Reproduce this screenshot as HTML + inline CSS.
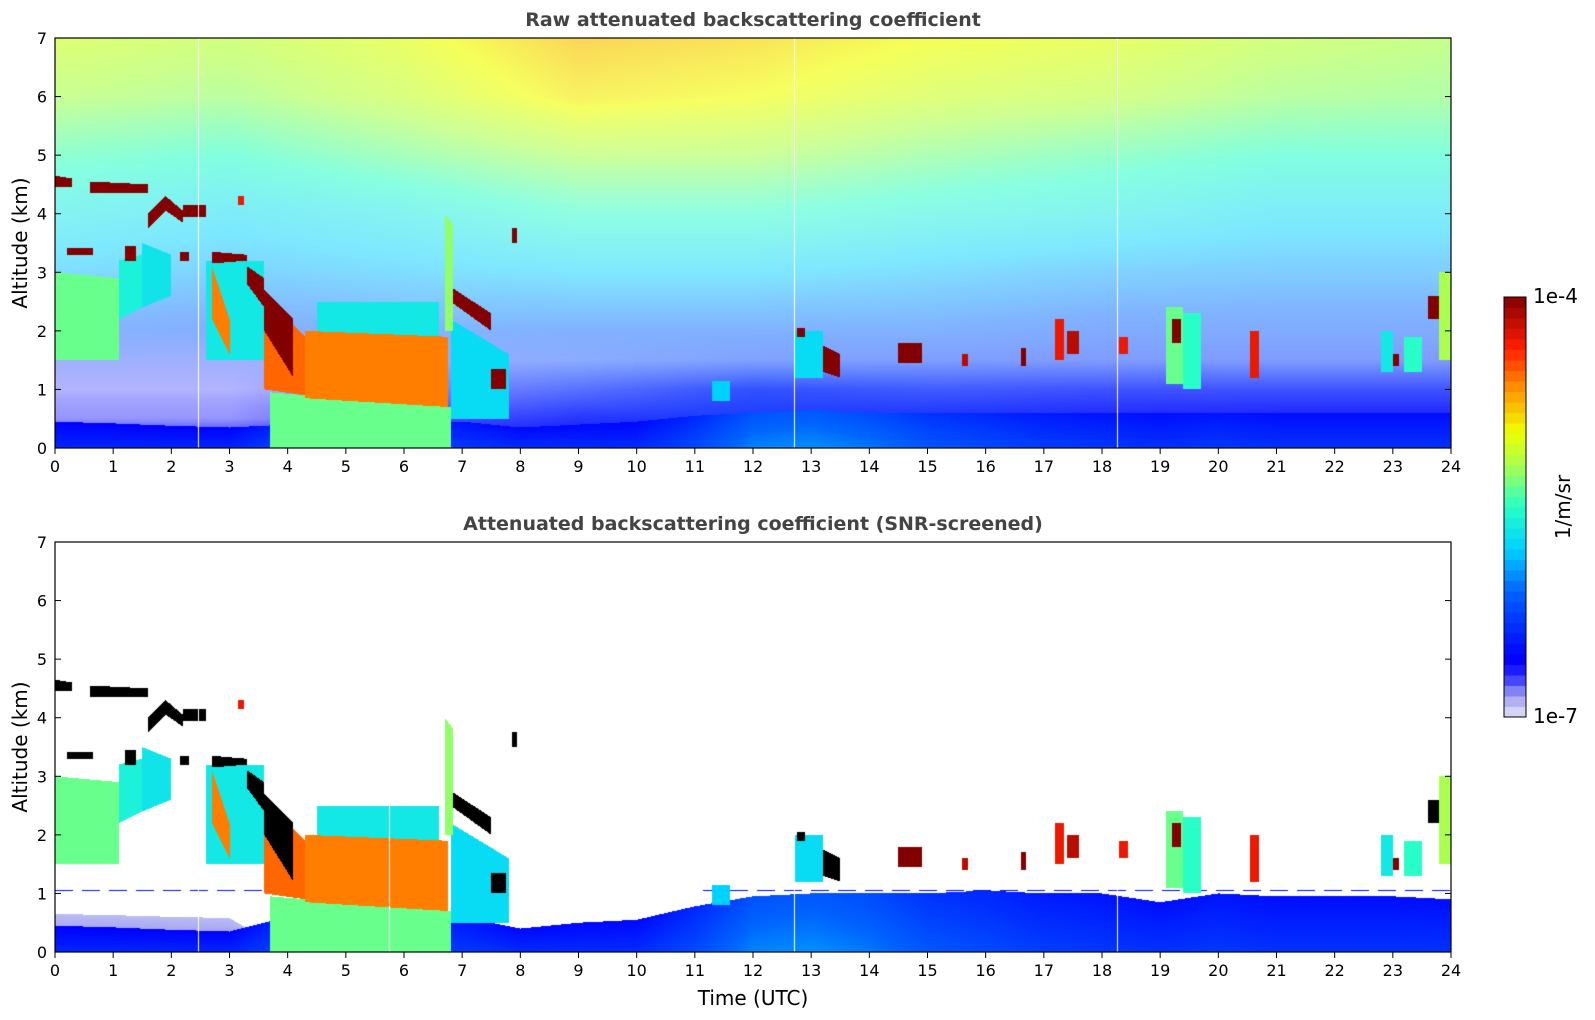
<!DOCTYPE html>
<html><head><meta charset="utf-8">
<style>
html,body{margin:0;padding:0;background:#fff;}
#wrap{position:relative;width:1595px;height:1020px;overflow:hidden;font-family:"DejaVu Sans","Liberation Sans",sans-serif;}
canvas{position:absolute;}
.t{position:absolute;white-space:nowrap;color:#000;}
</style></head><body>
<div id="wrap">
<canvas id="c1" width="1396" height="410" style="left:55px;top:38px"></canvas>
<canvas id="c2" width="1396" height="410" style="left:55px;top:542px"></canvas>
<canvas id="cb" width="22" height="420" style="left:1504px;top:297px"></canvas>
<svg id="ax" width="1595" height="1020" style="position:absolute;left:0;top:0"></svg>
<div class="t" style="left:753px;top:9px;transform:translateX(-50%);font-weight:bold;font-size:19px;color:#444">Raw attenuated backscattering coefficient</div>
<div class="t" style="left:753px;top:513px;transform:translateX(-50%);font-weight:bold;font-size:19px;color:#444">Attenuated backscattering coefficient (SNR-screened)</div>
<div class="t" style="left:20px;top:243px;transform:translate(-50%,-50%) rotate(-90deg);font-size:20px">Altitude (km)</div>
<div class="t" style="left:20px;top:747px;transform:translate(-50%,-50%) rotate(-90deg);font-size:20px">Altitude (km)</div>
<div class="t" style="left:753px;top:986px;transform:translateX(-50%);font-size:20px">Time (UTC)</div>
<div class="t" style="left:1533px;top:284px;font-size:20px">1e-4</div>
<div class="t" style="left:1533px;top:704px;font-size:20px">1e-7</div>
<div class="t" style="left:1563px;top:507px;transform:translate(-50%,-50%) rotate(-90deg);font-size:20px">1/m/sr</div>
</div>
<script>
// ---- data ----
const xTicks=[0,1,2,3,4,5,6,7,8,9,10,11,12,13,14,15,16,17,18,19,20,21,22,23,24];
const yTicks=[0,1,2,3,4,5,6,7];
const gapHours=[2.45,12.7,18.25];
const gapHoursBottom=[2.45,5.75,12.7,18.25];
const bgHours=[0,3,6,9,12,15,18,21,24];
const bgAlts=[0,0.5,1,1.5,2,3,4,5,6,7];
const bgLevel=[
[0.15,0.15,0.15,0.15,0.15,0.15,0.15,0.15,0.15],
[0.12,0.12,0.16,0.17,0.2,0.18,0.16,0.15,0.15],
[0.15,0.15,0.18,0.2,0.2,0.2,0.18,0.18,0.18],
[0.22,0.22,0.24,0.25,0.25,0.24,0.23,0.23,0.23],
[0.3,0.28,0.3,0.3,0.3,0.3,0.28,0.28,0.28],
[0.38,0.36,0.38,0.4,0.4,0.38,0.36,0.35,0.35],
[0.45,0.42,0.45,0.5,0.5,0.47,0.45,0.42,0.42],
[0.52,0.5,0.55,0.6,0.6,0.56,0.53,0.5,0.5],
[0.6,0.58,0.63,0.7,0.68,0.64,0.62,0.58,0.57],
[0.64,0.62,0.66,0.74,0.72,0.68,0.66,0.62,0.6]];
const bgDensity=[
[1,1,1,1,1,1,1,1,1],
[0.45,0.45,0.7,0.85,0.9,0.9,0.9,0.9,0.9],
[0.3,0.3,0.5,0.65,0.8,0.75,0.75,0.75,0.75],
[0.38,0.38,0.42,0.45,0.5,0.5,0.5,0.5,0.5],
[0.48,0.48,0.48,0.5,0.5,0.5,0.5,0.5,0.5],
[0.5,0.5,0.5,0.5,0.5,0.5,0.5,0.5,0.5],
[0.52,0.52,0.52,0.52,0.52,0.52,0.52,0.52,0.52],
[0.58,0.58,0.58,0.58,0.58,0.58,0.58,0.58,0.58],
[0.62,0.62,0.62,0.62,0.62,0.62,0.62,0.62,0.62],
[0.66,0.66,0.66,0.66,0.66,0.66,0.66,0.66,0.66]];
const blHours=[0,1,2,3,4,5,6,7,8,9,10,11,12,13,14,15,16,17,18,19,20,21,22,23,24];
const topBlTop=[0.45,0.42,0.38,0.35,0.4,0.4,0.4,0.45,0.35,0.4,0.45,0.55,0.6,0.65,0.6,0.6,0.6,0.6,0.6,0.6,0.6,0.6,0.6,0.6,0.6];
const topBlLevel=[0.14,0.14,0.14,0.14,0.2,0.2,0.2,0.17,0.15,0.15,0.15,0.2,0.27,0.28,0.26,0.22,0.2,0.18,0.17,0.16,0.17,0.16,0.16,0.16,0.16];
const botBlTop=[0.45,0.42,0.38,0.35,0.6,0.6,0.6,0.6,0.4,0.5,0.55,0.78,0.95,1.0,1.0,1.0,1.05,1.0,1.0,0.85,1.0,0.95,0.95,0.95,0.9];
const botBlLevel=[0.14,0.14,0.14,0.14,0.2,0.2,0.2,0.17,0.15,0.15,0.15,0.2,0.27,0.28,0.26,0.22,0.2,0.18,0.17,0.16,0.17,0.16,0.16,0.16,0.16];
const botHazeTop=[0.65,0.63,0.6,0.58,0,0,0,0,0,0,0,0,0,0,0,0,0,0,0,0,0,0,0,0,0];
// clouds: [tStart, tEnd, bottomStart, topStart, bottomEnd, topEnd, level]
const clouds=[
[0,1.1,1.5,3.0,1.5,2.9,0.55],[1.1,1.5,2.2,3.2,2.4,3.3,0.47],[1.5,2.0,2.4,3.5,2.6,3.3,0.44],
[0,0.3,4.45,4.65,4.45,4.6,1.05],[0.6,1.6,4.35,4.55,4.35,4.5,1.05],[1.6,1.9,3.75,4.0,4.05,4.3,1.05],
[1.9,2.2,4.05,4.3,3.85,4.05,1.05],[2.2,2.6,3.95,4.15,3.95,4.15,1.05],[0.2,0.65,3.3,3.42,3.3,3.42,1.05],
[1.2,1.4,3.2,3.45,3.2,3.45,1.05],[2.15,2.3,3.2,3.35,3.2,3.35,1.05],[3.15,3.25,4.15,4.3,4.15,4.3,0.9],
[2.6,3.6,1.5,3.2,1.5,3.2,0.45],[2.7,3.3,3.15,3.35,3.2,3.3,1.05],[2.7,3.0,2.2,3.1,1.6,2.2,0.8],
[3.3,3.6,2.8,3.1,2.4,2.9,1.05],[3.7,6.8,0,0.95,0,0.7,0.55],[4.5,6.6,1.9,2.5,1.9,2.5,0.45],
[3.6,4.3,1.0,2.6,0.9,1.9,0.82],[4.3,6.75,0.85,2.0,0.7,1.9,0.8],[3.6,4.1,2.0,2.7,1.2,2.2,1.05],
[6.8,7.8,0.5,2.2,0.5,1.6,0.42],[6.8,7.5,2.5,2.75,2.0,2.3,1.05],[7.5,7.75,1.0,1.35,1.0,1.35,1.05],
[6.7,6.85,2.0,4.0,2.0,3.8,0.58],[7.85,7.95,3.5,3.75,3.5,3.75,1.05],[11.3,11.6,0.8,1.15,0.8,1.15,0.4],
[12.7,13.2,1.2,2.0,1.2,2.0,0.42],[13.2,13.5,1.3,1.75,1.2,1.6,1.05],[12.75,12.9,1.9,2.05,1.9,2.05,1.05],
[14.5,14.9,1.45,1.8,1.45,1.8,1.0],[15.6,15.7,1.4,1.6,1.4,1.6,0.95],[16.6,16.7,1.4,1.7,1.4,1.7,1.0],
[17.2,17.35,1.5,2.2,1.5,2.2,0.9],[17.4,17.6,1.6,2.0,1.6,2.0,0.95],[18.3,18.45,1.6,1.9,1.6,1.9,0.9],
[19.1,19.4,1.1,2.4,1.1,2.4,0.55],[19.4,19.7,1.0,2.3,1.0,2.3,0.5],[19.2,19.35,1.8,2.2,1.8,2.2,1.0],
[20.55,20.7,1.2,2.0,1.2,2.0,0.9],[22.8,23.0,1.3,2.0,1.3,2.0,0.45],[23.2,23.5,1.3,1.9,1.3,1.9,0.5],
[23.0,23.1,1.4,1.6,1.4,1.6,1.0],[23.8,24,1.5,3.0,1.5,3.0,0.6],[23.6,23.8,2.2,2.6,2.2,2.6,1.05]];
const botLines=[[0,3.6,1.04,1.06,0.13],[11,24,1.04,1.06,0.16]];
const cbLevels=40;
// ---- scales ----
const X0=55,W=1396,H=410,TOP1=38,TOP2=542;
function xs(t){return X0+t/24*W;}
function ys(z,top){return top+(7-z)/7*H;}
const stops=[[0,[230,230,250]],[0.05,[160,160,240]],[0.1,[40,40,255]],[0.14,[0,0,255]],[0.3,[0,100,255]],[0.4,[0,210,255]],[0.5,[40,255,200]],[0.6,[170,255,80]],[0.68,[240,255,0]],[0.78,[255,150,0]],[0.88,[255,30,0]],[1,[130,0,0]]];
function cmap(v){
  if(v<0)v=0;if(v>1)v=1;
  for(let i=1;i<stops.length;i++){if(v<=stops[i][0]){const a=stops[i-1],b=stops[i],f=(v-a[0])/(b[0]-a[0]);
    return [a[1][0]+(b[1][0]-a[1][0])*f,a[1][1]+(b[1][1]-a[1][1])*f,a[1][2]+(b[1][2]-a[1][2])*f];}}
  return stops[stops.length-1][1];
}
function interp1(xa,ya,x){if(x<=xa[0])return ya[0];for(let i=1;i<xa.length;i++){if(x<=xa[i]){const f=(x-xa[i-1])/(xa[i]-xa[i-1]);return ya[i-1]+(ya[i]-ya[i-1])*f;}}return ya[ya.length-1];}
function render(id,top,isTop){
  const cv=document.getElementById(id),ctx=cv.getContext('2d');
  const img=ctx.createImageData(W,H),d=img.data;
  const gaps=(isTop?gapHours:gapHoursBottom).map(g=>Math.round(xs(g)-X0));
  for(let px=0;px<W;px++){
    const t=(px+0.5)/W*24;
    const blT=interp1(blHours,isTop?topBlTop:botBlTop,t),blL=interp1(blHours,isTop?topBlLevel:botBlLevel,t);
    const hz=isTop?0:interp1(blHours,botHazeTop,t);
    const cl=clouds.filter(c=>t>=c[0]&&t<=c[1]);
    const isGap=gaps.includes(px);
    const dashOn=(Math.floor(px/9)%3)!==2;
    const bgL=[],bgD=[];
    if(isTop){for(let i=0;i<bgAlts.length;i++){bgL.push(interp1(bgHours,bgLevel[i],t));bgD.push(interp1(bgHours,bgDensity[i],t));}}
    for(let py=0;py<H;py++){
      const z=7-(py+0.5)/H*7;let c=[255,255,255];
      if(isTop){const l=interp1(bgAlts,bgL,z),dn=interp1(bgAlts,bgD,z),k=cmap(l);c=[k[0]*dn+255*(1-dn),k[1]*dn+255*(1-dn),k[2]*dn+255*(1-dn)];}
      else{ if(z<hz)c=cmap(0.03+0.04*(1-z/hz));
        if(dashOn){for(const ln of botLines){if(t>=ln[0]&&t<=ln[1]&&z>=ln[2]&&z<=ln[3])c=cmap(ln[4]);}} }
      if(z<blT)c=cmap(blL+0.06*(1-z/blT));
      for(const k of cl){const f=(t-k[0])/(k[1]-k[0]),b=k[2]+(k[4]-k[2])*f,tp=k[3]+(k[5]-k[3])*f;
        if(z>=b&&z<=tp){c=(k[6]>1.02&&!isTop)?[0,0,0]:cmap(k[6]);}}
      if(isGap)c=[255,255,255];
      const o=(py*W+px)*4;d[o]=c[0];d[o+1]=c[1];d[o+2]=c[2];d[o+3]=255;
    }
  }
  ctx.putImageData(img,0,0);
}
render('c1',TOP1,true);render('c2',TOP2,false);
// colorbar
(function(){const ctx=document.getElementById('cb').getContext('2d');const h=420/cbLevels;
 for(let i=0;i<cbLevels;i++){const k=cmap((i+0.5)/cbLevels);ctx.fillStyle=`rgb(${k[0]|0},${k[1]|0},${k[2]|0})`;ctx.fillRect(0,420-(i+1)*h,22,Math.ceil(h));}})();
// axes
const svg=document.getElementById('ax'),NS='http://www.w3.org/2000/svg';
function mk(tag,attrs){const e=document.createElementNS(NS,tag);for(const k in attrs)e.setAttribute(k,attrs[k]);svg.appendChild(e);return e;}
const cbf=mk('rect',{x:1504,y:297,width:22,height:420,fill:'none',stroke:'#000','stroke-width':1});


[[TOP1,'top'],[TOP2,'bottom']].forEach(([top,nm])=>{
  const fr=mk('rect',{x:X0,y:top,width:W,height:H,fill:'none',stroke:'#000','stroke-width':1.2});
  
  
  xTicks.forEach(v=>{const x=xs(v);
    const tk=mk('line',{x1:x,x2:x,y1:top+H,y2:top+H+6,stroke:'#000','stroke-width':1});
    
    
    const tx=mk('text',{x:x,y:top+H+24,'text-anchor':'middle','font-size':16,'font-family':'DejaVu Sans, sans-serif'});tx.textContent=v;
    
    });
  yTicks.forEach(v=>{const y=ys(v,top);
    const a=mk('line',{x1:X0,x2:X0+6,y1:y,y2:y,stroke:'#000','stroke-width':1});
    
    
    const b=mk('line',{x1:X0+W-6,x2:X0+W,y1:y,y2:y,stroke:'#000','stroke-width':1});
    
    
    const tx=mk('text',{x:X0-8,y:y+6,'text-anchor':'end','font-size':16,'font-family':'DejaVu Sans, sans-serif'});tx.textContent=v;
    
    });
});
</script>
</body></html>
